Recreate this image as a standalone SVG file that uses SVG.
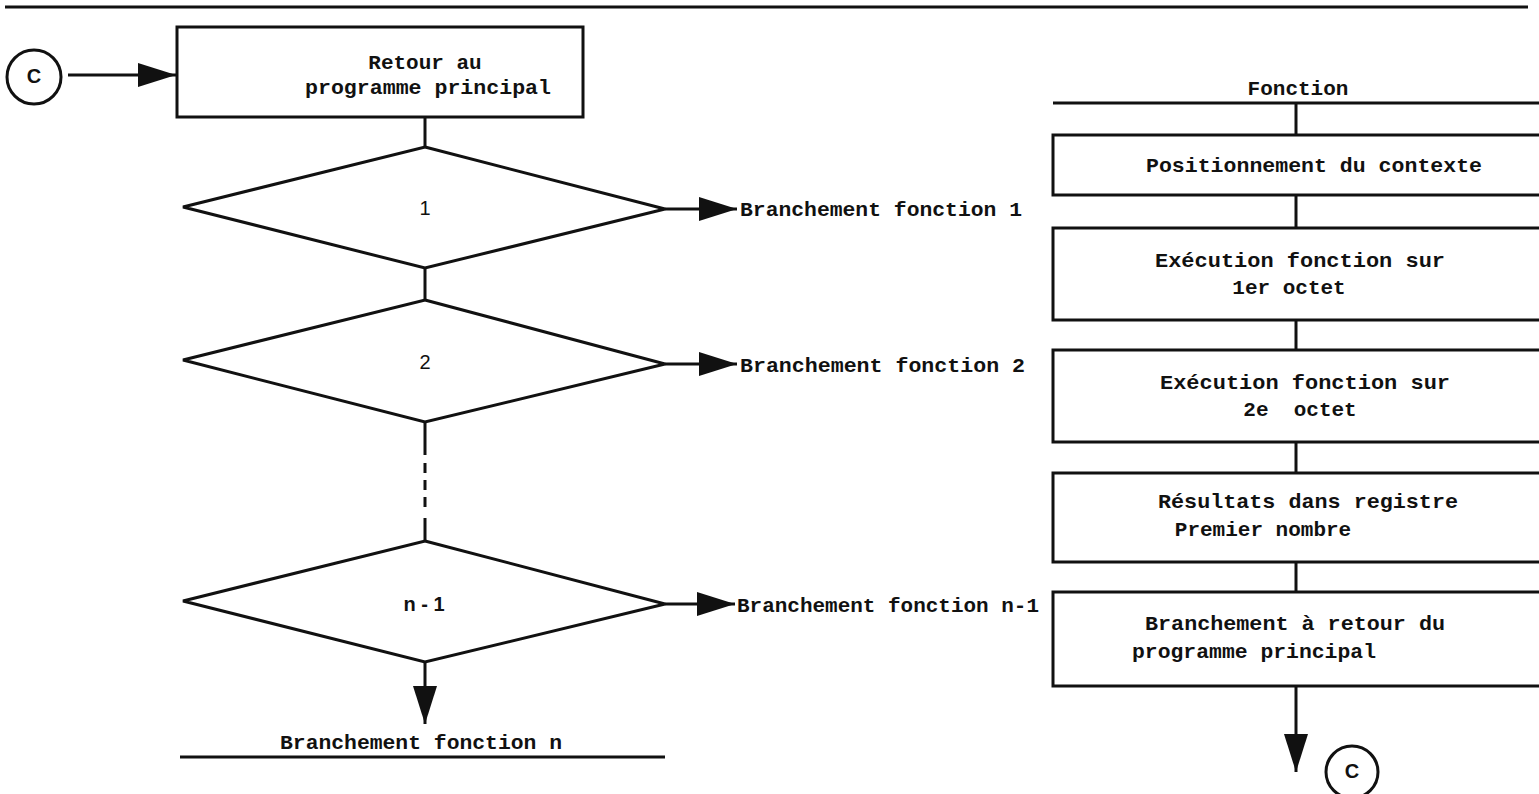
<svg xmlns="http://www.w3.org/2000/svg" width="1539" height="794" viewBox="0 0 1539 794">
<style>
.s{fill:none;stroke:#111;stroke-width:3}
.b{fill:#fff;stroke:#111;stroke-width:3}
.t{font-family:"Liberation Mono","DejaVu Sans Mono",monospace;font-weight:bold;font-size:21px;fill:#111;text-anchor:middle}
.l{font-family:"Liberation Mono","DejaVu Sans Mono",monospace;font-weight:bold;font-size:21px;fill:#111}
.n{font-family:"Liberation Sans",Arial,sans-serif;font-size:20px;fill:#111;text-anchor:middle}
</style>
<defs>
<marker id="ahL" viewBox="0 0 10 10" refX="10" refY="5" markerWidth="38" markerHeight="24" markerUnits="userSpaceOnUse" orient="auto" preserveAspectRatio="none">
<path d="M0,0 L10,5 L0,10 Z" fill="#111"/>
</marker>
</defs>
<rect width="1539" height="794" fill="#fff"/>
<line x1="5" y1="7" x2="1528" y2="7" stroke="#111" stroke-width="3"/>

<g id="connectors">
<line class="s" x1="68" y1="75" x2="176" y2="75" marker-end="url(#ahL)"/>
<line class="s" x1="425" y1="117" x2="425" y2="148"/>
<line class="s" x1="665" y1="209" x2="737" y2="209" marker-end="url(#ahL)"/>
<line class="s" x1="425" y1="268" x2="425" y2="300"/>
<line class="s" x1="665" y1="364" x2="737" y2="364" marker-end="url(#ahL)"/>
<line class="s" x1="425" y1="422" x2="425" y2="455"/>
<line class="s" x1="425" y1="463" x2="425" y2="512" stroke-dasharray="10 7"/>
<line class="s" x1="425" y1="518" x2="425" y2="541"/>
<line class="s" x1="665" y1="604" x2="735" y2="604" marker-end="url(#ahL)"/>
<line x1="425" y1="662" x2="425" y2="724" stroke="#111" stroke-width="3" marker-end="url(#ahL)"/>
<line class="s" x1="1296" y1="103" x2="1296" y2="135"/>
<line class="s" x1="1296" y1="195" x2="1296" y2="228"/>
<line class="s" x1="1296" y1="320" x2="1296" y2="350"/>
<line class="s" x1="1296" y1="442" x2="1296" y2="473"/>
<line class="s" x1="1296" y1="562" x2="1296" y2="592"/>
<line class="s" x1="1296" y1="686" x2="1296" y2="772" marker-end="url(#ahL)"/>
</g>

<g id="c-start">
<circle class="b" cx="34" cy="77" r="27"/>
<text class="n" x="34" y="83" font-weight="bold" font-size="17">C</text>
</g>

<g id="retour">
<rect class="b" x="177" y="27" width="406" height="90"/>
<text class="t" x="425" y="69">Retour au</text>
<text class="t" x="428" y="94" textLength="246" lengthAdjust="spacingAndGlyphs">programme principal</text>
</g>

<g id="d1">
<polygon class="b" points="425,147 665,209 425,268 183,207"/>
<text class="n" x="425" y="215">1</text>
</g>
<text class="l" x="740" y="216" textLength="282" lengthAdjust="spacingAndGlyphs">Branchement fonction 1</text>

<g id="d2">
<polygon class="b" points="425,300 665,364 425,422 183,360"/>
<text class="n" x="425" y="369">2</text>
</g>
<text class="l" x="740" y="372" textLength="285" lengthAdjust="spacingAndGlyphs">Branchement fonction 2</text>

<g id="dn1">
<polygon class="b" points="425,541 665,604 425,662 183,601"/>
<text class="n" x="424" y="611" font-weight="bold">n - 1</text>
</g>
<text class="l" x="737" y="612" textLength="302" lengthAdjust="spacingAndGlyphs">Branchement fonction n-1</text>

<g id="fn">
<text class="t" x="421" y="749" textLength="282" lengthAdjust="spacingAndGlyphs">Branchement fonction n</text>
<line x1="180" y1="757" x2="665" y2="757" stroke="#111" stroke-width="3"/>
</g>

<g id="fonction">
<text class="t" x="1298" y="95">Fonction</text>
<line x1="1053" y1="103" x2="1539" y2="103" stroke="#111" stroke-width="3"/>
</g>

<g id="b1">
<rect class="b" x="1053" y="135" width="510" height="60"/>
<text class="t" x="1314" y="172" textLength="336" lengthAdjust="spacingAndGlyphs">Positionnement du contexte</text>
</g>

<g id="b2">
<rect class="b" x="1053" y="228" width="510" height="92"/>
<text class="t" x="1300" y="267" textLength="290" lengthAdjust="spacingAndGlyphs">Exécution fonction sur</text>
<text class="t" x="1289" y="294">1er octet</text>
</g>

<g id="b3">
<rect class="b" x="1053" y="350" width="510" height="92"/>
<text class="t" x="1305" y="389" textLength="290" lengthAdjust="spacingAndGlyphs">Exécution fonction sur</text>
<text class="t" x="1300" y="416" xml:space="preserve">2e  octet</text>
</g>

<g id="b4">
<rect class="b" x="1053" y="473" width="510" height="89"/>
<text class="t" x="1308" y="508" textLength="300" lengthAdjust="spacingAndGlyphs">Résultats dans registre</text>
<text class="t" x="1263" y="536">Premier nombre</text>
</g>

<g id="b5">
<rect class="b" x="1053" y="592" width="510" height="94"/>
<text class="t" x="1295" y="630" textLength="300" lengthAdjust="spacingAndGlyphs">Branchement à retour du</text>
<text class="t" x="1254" y="658" textLength="244" lengthAdjust="spacingAndGlyphs">programme principal</text>
</g>

<g id="c-end">
<circle class="b" cx="1352" cy="772" r="26"/>
<text class="n" x="1352" y="778" font-weight="bold" font-size="17">C</text>
</g>
</svg>
